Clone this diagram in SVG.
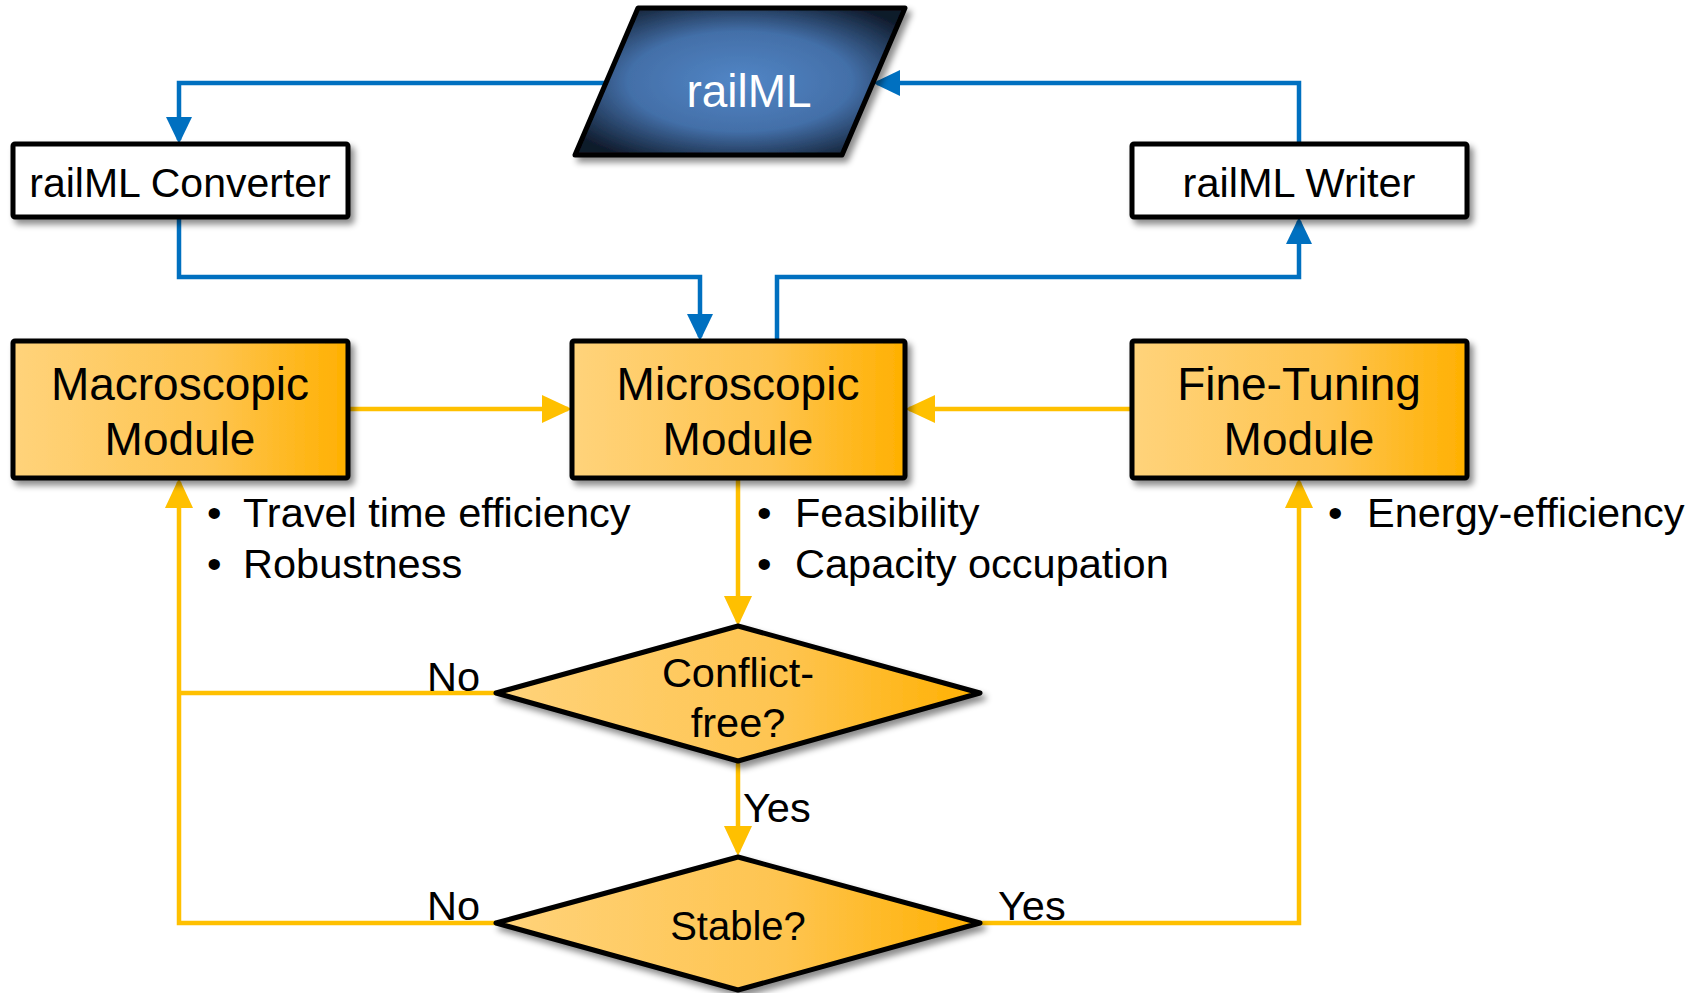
<svg xmlns="http://www.w3.org/2000/svg" width="1703" height="993" viewBox="0 0 1703 993">
  <defs>
    <linearGradient id="orange" x1="0" y1="0" x2="1" y2="0">
      <stop offset="0" stop-color="#ffd37b"/>
      <stop offset="0.6" stop-color="#fec44f"/>
      <stop offset="1" stop-color="#ffb000"/>
    </linearGradient>
    <radialGradient id="blue" cx="0.5" cy="0.5" r="0.62">
      <stop offset="0" stop-color="#5286c6"/>
      <stop offset="0.55" stop-color="#436fa8"/>
      <stop offset="1" stop-color="#0f1a2b"/>
    </radialGradient>
    <filter id="shadow" x="-10%" y="-10%" width="125%" height="130%">
      <feDropShadow dx="4" dy="5" stdDeviation="3" flood-color="#000" flood-opacity="0.45"/>
    </filter>
    <marker id="arrBlue" markerUnits="userSpaceOnUse" markerWidth="30" markerHeight="28" refX="23" refY="13" orient="auto">
      <path d="M0,0 L27,13 L0,26 z" fill="#0070c0"/>
    </marker>
    <marker id="arrOrange" markerUnits="userSpaceOnUse" markerWidth="32" markerHeight="30" refX="26" refY="14" orient="auto">
      <path d="M0,0 L30,14 L0,28 z" fill="#ffc000"/>
    </marker>
  </defs>
  <style>
    .box { fill: #ffffff; stroke: #000; stroke-width: 5; filter: url(#shadow); }
    .mod { fill: url(#orange); stroke: #000; stroke-width: 5; filter: url(#shadow); }
    .t { font-family: "Liberation Sans", Arial, sans-serif; fill: #000; }
    .big { font-size: 46px; text-anchor: middle; }
    .mid { font-size: 41.5px; text-anchor: middle; }
    .lab { font-size: 41.5px; }
    .blue { fill: none; stroke: #0070c0; stroke-width: 4.5; marker-end: url(#arrBlue); }
    .or { fill: none; stroke: #ffc000; stroke-width: 4.5; }
    .ora { marker-end: url(#arrOrange); }
  </style>

  <g id="connectors">
    <polyline class="blue" points="606,83 179,83 179,140"/>
    <polyline class="blue" points="179,217 179,277 700,277 700,337"/>
    <polyline class="blue" points="777,341 777,277 1299,277 1299,221"/>
    <polyline class="blue" points="1299,143 1299,83 877,83"/>
    <polyline class="or ora" points="348,409 568,409"/>
    <polyline class="or ora" points="1132,409 909,409"/>
    <polyline class="or ora" points="738,478 738,622"/>
    <polyline class="or ora" points="738,761 738,852"/>
    <polyline class="or" points="496,693 179,693"/>
    <polyline class="or ora" points="496,923 179,923 179,482"/>
    <polyline class="or ora" points="980,923 1299,923 1299,482"/>
    <text class="t lab" x="427" y="691">No</text>
    <text class="t lab" x="743" y="822">Yes</text>
    <text class="t lab" x="427" y="920">No</text>
    <text class="t lab" x="998" y="920">Yes</text>
  </g>

  <g id="railml">
    <polygon points="638,8 905,8 842,155 575,155" fill="url(#blue)" stroke="#000" stroke-width="5" stroke-linejoin="round" filter="url(#shadow)"/>
    <text class="t big" x="749" y="107" style="fill:#ffffff;font-size:46px">railML</text>
  </g>

  <g id="converter">
    <rect class="box" x="13" y="144" width="335" height="73" rx="2"/>
    <text class="t mid" x="180" y="197" style="font-size:41px">railML Converter</text>
  </g>

  <g id="writer">
    <rect class="box" x="1132" y="144" width="335" height="73" rx="2"/>
    <text class="t mid" x="1299" y="197">railML Writer</text>
  </g>

  <g id="macroscopic">
    <rect class="mod" x="13" y="341" width="335" height="137" rx="2"/>
    <text class="t big" x="180" y="400">Macroscopic</text>
    <text class="t big" x="180" y="455">Module</text>
  </g>

  <g id="microscopic">
    <rect class="mod" x="572" y="341" width="333" height="137" rx="2"/>
    <text class="t big" x="738" y="400">Microscopic</text>
    <text class="t big" x="738" y="455">Module</text>
  </g>

  <g id="finetuning">
    <rect class="mod" x="1132" y="341" width="335" height="137" rx="2"/>
    <text class="t big" x="1299" y="400">Fine-Tuning</text>
    <text class="t big" x="1299" y="455">Module</text>
  </g>

  <g id="conflict">
    <polygon class="mod" points="738,626 980,693 738,761 496,693" stroke-linejoin="round"/>
    <text class="t mid" x="738" y="687">Conflict-</text>
    <text class="t mid" x="738" y="737">free?</text>
  </g>

  <g id="stable">
    <polygon class="mod" points="738,857 980,923 738,990 496,923" stroke-linejoin="round"/>
    <text class="t mid" x="738" y="940" style="font-size:40px">Stable?</text>
  </g>

  <g id="notes">
    <text class="t lab" x="207" y="527">•</text>
    <text class="t lab" x="243" y="527">Travel time efficiency</text>
    <text class="t lab" x="207" y="578">•</text>
    <text class="t lab" x="243" y="578">Robustness</text>
    <text class="t lab" x="757" y="527">•</text>
    <text class="t lab" x="795" y="527">Feasibility</text>
    <text class="t lab" x="757" y="578">•</text>
    <text class="t lab" x="795" y="578">Capacity occupation</text>
    <text class="t lab" x="1328" y="527">•</text>
    <text class="t lab" x="1367" y="527">Energy-efficiency</text>
  </g>
</svg>
